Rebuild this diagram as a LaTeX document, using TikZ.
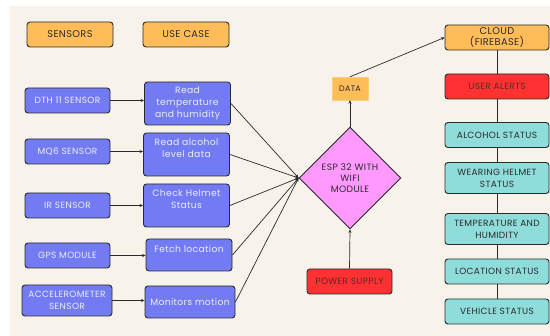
\documentclass[tikz,border=0pt]{standalone}
\usepackage{fontspec}
\setmainfont{Poppins}[LetterSpace=4]
\usetikzlibrary{shapes.geometric, arrows.meta, positioning}
\definecolor{canvas}{HTML}{F7F3EB}
\definecolor{headorange}{HTML}{FFBD59}
\definecolor{sensorblue}{HTML}{737BF2}
\definecolor{alertred}{HTML}{FF3131}
\definecolor{statuscyan}{HTML}{8EDDDB}
\definecolor{esppink}{HTML}{FF99FF}
\definecolor{edge}{HTML}{2B2B2B}
\definecolor{lighttext}{HTML}{EDEDFF}
\tikzset{
    basebox/.style={rectangle, rounded corners=3pt, draw=edge, line width=0.9pt, align=center, inner sep=1pt},
    headbox/.style={basebox, fill=headorange, text=edge, minimum width=86pt, minimum height=25pt, font=\fontsize{9.8}{12}\selectfont},
    sensorbox/.style={basebox, fill=sensorblue, text=lighttext, minimum width=85pt, minimum height=25pt, font=\fontsize{9}{12}\selectfont},
    usebox/.style={basebox, fill=sensorblue, text=lighttext, minimum width=86pt, font=\fontsize{9.2}{12}\selectfont},
    statusbox/.style={basebox, fill=statuscyan, text=edge, minimum width=104pt, minimum height=25pt, font=\fontsize{9}{12}\selectfont},
    alertbox/.style={basebox, fill=alertred, text=edge!80!alertred, minimum height=25pt, font=\fontsize{9}{12}\selectfont},
    espbox/.style={diamond, draw=edge, line width=0.9pt, fill=esppink, text=edge, minimum width=102pt, minimum height=102pt, inner sep=0pt, align=center, font=\fontsize{9.2}{11}\selectfont},
    arrow/.style={line width=0.7pt, draw=edge, -{Stealth[length=3.5pt,width=3pt]}},
    link/.style={line width=0.9pt, draw=edge}
}
\begin{document}
\begin{tikzpicture}[x=1pt, y=-1pt]
        % Canvas
        \useasboundingbox (0,0) rectangle (550,336);
        \fill[white] (0,0) rectangle (550,336);
        \fill[canvas] (10,6) rectangle (550,336);

        % Column headers
        \node[headbox] (sensors) at (70, 34.5) {SENSORS};
        \node[headbox] (usecase) at (186, 34.5) {USE CASE};

        % Sensors
        \node[sensorbox] (dth) at (67.5, 100.5) {DTH 11 SENSOR};
        \node[sensorbox] (mq) at (67.5, 151.5) {MQ6 SENSOR};
        \node[sensorbox] (ir) at (67.5, 205.5) {IR SENSOR};
        \node[sensorbox] (gps) at (67.5, 255.5) {GPS MODULE};
        \node[sensorbox, minimum width=90pt, minimum height=31pt] (acc) at (67, 300.5) {ACCELEROMETER\\SENSOR};

        % Use cases
        \node[usebox, minimum height=43pt] (temp) at (187.5, 103.5) {Read\\temperature\\and humidity};
        \node[usebox, minimum height=43pt] (alc) at (186.5, 154.5) {Read alcohol\\level data\\\mbox{}};
        \node[usebox, minimum height=43pt] (helmet) at (186.5, 205.5) {Check Helmet\\Status\\\mbox{}};
        \node[usebox, minimum height=32pt] (loc) at (189, 255) {Fetch location\\\mbox{}};
        \node[usebox, minimum width=90pt, minimum height=32pt] (motion) at (190, 302) {Monitors motion};

        % Controller
        \node[espbox] (esp) at (350, 178) {ESP 32 WITH\\WIFI\\MODULE};
        \node[rectangle, fill=headorange, draw=headorange!80!white, text=edge, minimum width=36pt, minimum height=23pt, inner sep=1pt, font=\fontsize{8}{9}\selectfont] (data) at (350, 88.5) {DATA};
        \node[alertbox, minimum width=85pt] (power) at (349.5, 281.5) {POWER SUPPLY};

        % Cloud side
        \node[headbox, minimum width=104pt, font=\fontsize{9.8}{11.5}\selectfont] (cloud) at (497, 37.5) {CLOUD\\(FIREBASE)};
        \node[alertbox, minimum width=104pt] (alerts) at (497, 86.5) {USER ALERTS};
        \node[statusbox] (alcst) at (497, 135) {ALCOHOL STATUS};
        \node[statusbox, minimum height=31pt] (helmst) at (497, 178) {WEARING HELMET\\STATUS};
        \node[statusbox, minimum height=31pt] (tempst) at (497, 229) {TEMPERATURE AND\\HUMIDITY};
        \node[statusbox] (locst) at (497, 271.5) {LOCATION STATUS};
        \node[statusbox] (vehst) at (497, 311.5) {VEHICLE STATUS};

        % Sensor to use case
        \draw[arrow] (dth) -- (dth -| temp.west);
        \draw[arrow] (mq) -- (mq -| alc.west);
        \draw[arrow] (ir) -- (ir -| helmet.west);
        \draw[arrow] (gps) -- (gps -| loc.west);
        \draw[arrow] (acc) -- (acc -| motion.west);

        % Use case to ESP 32
        \foreach \src in {temp, alc, helmet, loc, motion}
            \draw[arrow] (\src.east) -- (esp.west);

        % ESP 32 links
        \draw[arrow] (esp.north) -- (data.south);
        \draw[arrow] (power.north) -- (esp.south);
        \draw[arrow] (data.north) -- (cloud.west);

        % Cloud chain
        \draw[link] (cloud) -- (alerts);
        \draw[link] (alerts) -- (alcst);
        \draw[link] (alcst) -- (helmst);
        \draw[link] (helmst) -- (tempst);
        \draw[link] (tempst) -- (locst);
        \draw[link] (locst) -- (vehst);
    \end{tikzpicture}
\end{document}
